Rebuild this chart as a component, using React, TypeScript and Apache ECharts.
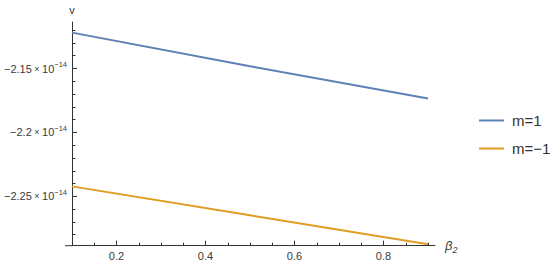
import React, { useEffect, useRef } from "react";
import * as echarts from "echarts";

// values in units of 1e-14
const EXPONENT = -14;
const beta2 = [0.1, 0.5, 0.9];
const vPlus = [-2.1219, -2.1482, -2.1734];
const vMinus = [-2.2422, -2.2648, -2.2875];
const seriesNames = ["m=1", "m=\u22121"];
const xMajorTicks = [0.2, 0.4, 0.6, 0.8];
const xMinorTicks = [0.15, 0.25, 0.3, 0.35, 0.45, 0.5, 0.55, 0.65, 0.7, 0.75, 0.85, 0.9];
const yMajorTicks = [-2.15, -2.2, -2.25];
const yMinorTicks = [-2.12, -2.13, -2.14, -2.16, -2.17, -2.18, -2.19, -2.21, -2.22, -2.23, -2.24, -2.26, -2.27, -2.28];

const FONT = "Liberation Sans, Arial, sans-serif";
const TXT = "#3a3a3a";
const AX = "#333";

export default function App() {
  const ref = useRef<HTMLDivElement>(null);
  useEffect(() => {
    if (!ref.current) return;
    const chart = echarts.init(ref.current, null, { renderer: "svg" });
    const pair = (xs: number[], ys: number[]) => xs.map((x, i) => [x, ys[i]]);
    const expStr = String(EXPONENT).replace("-", "\u2212");
    chart.setOption({
      animation: false,
      textStyle: { fontFamily: FONT },
      grid: { left: 72, right: 115, top: 22, bottom: 18.3, containLabel: false },
      legend: {
        orient: "vertical",
        left: 474,
        top: 108,
        icon: "rect",
        itemWidth: 25,
        itemHeight: 2,
        itemGap: 13,
        itemStyle: { borderWidth: 0 },
        textStyle: { fontSize: 15, color: "#333", fontFamily: FONT, padding: [0, 0, 0, 3] },
        data: seriesNames,
      },
      xAxis: [
        {
          type: "value",
          min: 0.1,
          max: 0.9157,
          name: "{b|\u03b2}{s|2}",
          nameLocation: "end",
          nameGap: 10,
          nameTextStyle: {
            rich: {
              b: { fontSize: 13, fontStyle: "italic", color: TXT, fontFamily: FONT },
              s: { fontSize: 9, fontStyle: "italic", color: TXT, fontFamily: FONT, padding: [8, 0, 0, 0] },
            },
          },
          axisLine: { show: true, onZero: false, lineStyle: { color: AX, width: 1 } },
          axisTick: { show: true, inside: true, length: 5, customValues: xMajorTicks, lineStyle: { color: AX } },
          axisLabel: {
            show: true,
            customValues: xMajorTicks,
            margin: 5,
            fontSize: 11,
            color: TXT,
            fontFamily: FONT,
            formatter: (v: number) => Number(v.toFixed(2)).toString(),
          },
          splitLine: { show: false },
        },
        {
          type: "value",
          position: "bottom",
          min: 0.1,
          max: 0.9157,
          axisLine: { show: false, onZero: false },
          axisTick: { show: true, inside: true, length: 3, customValues: xMinorTicks, lineStyle: { color: AX } },
          axisLabel: { show: false },
          splitLine: { show: false },
        },
      ],
      yAxis: [
        {
          type: "value",
          min: -2.2886,
          max: -2.1136,
          name: "v",
          nameLocation: "end",
          nameGap: 7,
          nameTextStyle: { fontSize: 11, color: TXT, fontFamily: FONT },
          axisLine: { show: true, onZero: false, lineStyle: { color: AX, width: 1 } },
          axisTick: { show: true, inside: true, length: 5, customValues: yMajorTicks, lineStyle: { color: AX } },
          axisLabel: {
            show: true,
            customValues: yMajorTicks,
            margin: 5,
            formatter: (v: number) =>
              "{a|" + Number(v.toFixed(2)).toString().replace("-", "\u2212") + "}{x|\u00d7}{a|10}{s|" + expStr + "}",
            rich: {
              a: { fontSize: 11, color: TXT, fontFamily: FONT },
              x: { fontSize: 9, color: TXT, fontFamily: FONT, padding: [0, 2.5, 0, 2.5] },
              s: { fontSize: 7.5, color: TXT, fontFamily: FONT, padding: [0, 0, 8, 0] },
            },
          },
          splitLine: { show: false },
        },
        {
          type: "value",
          position: "left",
          min: -2.2886,
          max: -2.1136,
          axisLine: { show: false, onZero: false },
          axisTick: { show: true, inside: true, length: 3.5, customValues: yMinorTicks, lineStyle: { color: AX } },
          axisLabel: { show: false },
          splitLine: { show: false },
        },
      ],
      graphic: [
        {
          type: "line",
          shape: { x1: 65, y1: 245.7, x2: 72, y2: 245.7 },
          style: { stroke: AX, lineWidth: 1 },
        },
      ],
      series: [
        {
          name: seriesNames[0],
          type: "line",
          data: pair(beta2, vPlus),
          symbol: "none",
          lineStyle: { color: "#5E81B5", width: 2 },
          itemStyle: { color: "#5E81B5" },
          xAxisIndex: 0,
          yAxisIndex: 0,
        },
        {
          name: seriesNames[1],
          type: "line",
          data: pair(beta2, vMinus),
          symbol: "none",
          lineStyle: { color: "#E19C24", width: 2 },
          itemStyle: { color: "#E19C24" },
          xAxisIndex: 0,
          yAxisIndex: 0,
        },
      ],
    });
    return () => chart.dispose();
  }, []);
  return <div ref={ref} style={{ width: 550, height: 264, position: "absolute", left: 0, top: 0 }} />;
}
